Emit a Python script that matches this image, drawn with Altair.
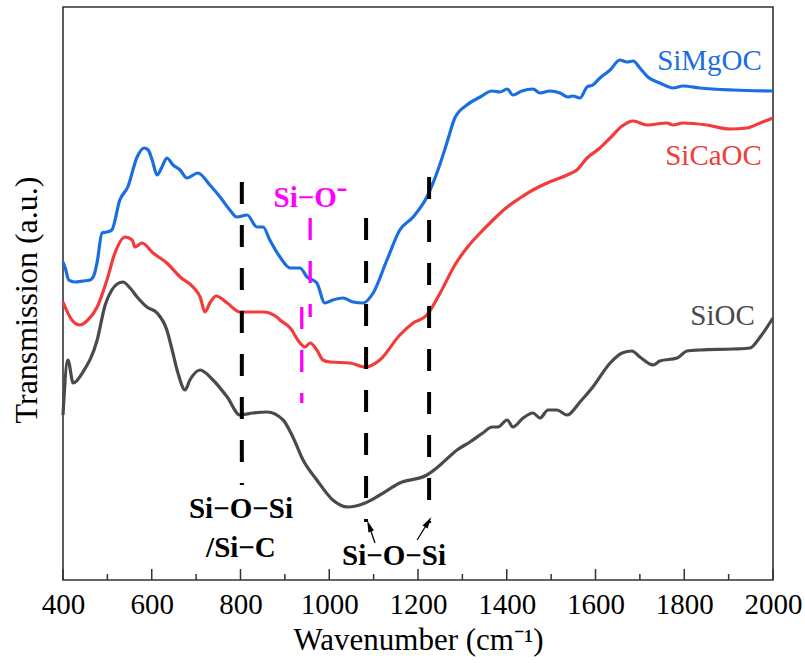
import altair as alt
import pandas as pd

# ---- data (wavenumber, transmission a.u.) ----
wn_mg = [400, 405, 413, 427, 445, 461, 470, 477, 488, 499, 510, 528, 546, 567, 583, 592, 601, 612, 623, 634,
         648, 664, 679, 704, 731, 754, 776, 792, 815, 837, 851, 866, 889, 912, 934, 950, 972, 990, 1008, 1031,
         1054, 1076, 1099, 1130, 1159, 1189, 1220, 1245, 1265, 1283, 1310, 1340, 1367, 1385, 1401, 1414, 1434,
         1459, 1475, 1497, 1520, 1538, 1549, 1565, 1581, 1594, 1610, 1633, 1655, 1671, 1685, 1700, 1718, 1745,
         1775, 1797, 1835, 1910, 2000]
t_mg = [318, 312, 300, 298, 299, 300, 305, 318, 347, 348, 350, 380, 393, 423, 432, 430, 420, 405, 413, 422,
        415, 410, 402, 407, 395, 383, 370, 363, 365, 353, 353, 340, 323, 312, 312, 303, 297, 277, 280, 282,
        278, 277, 287, 320, 350, 363, 383, 410, 437, 462, 475, 483, 489, 488, 491, 485, 489,
        491, 487, 489, 487, 483, 484, 482, 493, 495, 502, 510, 520, 518, 519, 512, 503, 497,
        492, 494, 492, 490, 489]

wn_ca = [400, 420, 438, 456, 477, 499, 517, 540, 556, 562, 578, 603, 634, 664, 693, 709, 720, 731, 745, 770,
         799, 851, 882, 889, 912, 934, 945, 957, 972, 986, 1002, 1047, 1081, 1114, 1159, 1189, 1220, 1250,
         1283, 1310, 1340, 1369, 1401, 1430, 1459, 1491, 1536, 1558, 1581, 1610, 1633, 1660, 1685, 1716,
         1761, 1775, 1797, 1851, 1903, 1941, 1971, 2000]
t_ca = [278, 260, 255, 260, 273, 300, 327, 343, 340, 333, 337, 327, 317, 303, 293, 283, 268, 277, 284, 277,
        268, 268, 263, 260, 252, 237, 233, 237, 230, 220, 218, 217, 213, 220, 245, 257, 265, 287,
        315, 332, 347, 360, 373, 382, 390, 397, 405, 410, 422, 432, 442, 454, 459, 455,
        457, 455, 457, 455, 451, 452, 457, 462]

wn_o = [400, 411, 423, 445, 477, 495, 510, 522, 535, 551, 567, 589, 612, 634, 646, 659, 675, 686, 709, 738,
        770, 799, 828, 860, 896, 918, 941, 972, 1008, 1042, 1081, 1114, 1159, 1220, 1250, 1288, 1317, 1346,
        1367, 1380, 1401, 1414, 1437, 1459, 1475, 1493, 1513, 1536, 1565, 1594, 1633, 1660, 1682, 1700,
        1730, 1745, 1784, 1806, 1835, 1910, 1948, 1971, 2000]
t_o = [165, 220, 197, 208, 240, 275, 290, 296, 298, 292, 283, 273, 267, 250, 230, 207, 190, 200, 210, 200,
       183, 165, 167, 168, 160, 143, 120, 100, 80, 73, 77, 85, 97, 105, 115, 130, 138, 147,
       153, 153, 160, 153, 162, 167, 162, 170, 170, 165, 178, 193, 217, 227, 229, 223,
       215, 219, 222, 229, 230, 231, 232, 243, 262]

series_names = ["SiOC", "SiCaOC", "SiMgOC"]
series_colors = ["#4a4a4a", "#f23b3b", "#1a6ee0"]

# dashed marker lines
black_x = [803, 1083, 1225]
black_top = [398, 362, 403]
black_bot = [95, 58, 57]
mag_x = [957, 938]
mag_top = [362, 273]
mag_bot = [263, 177]

# arrows (tail -> tip)
arr_x = [1103, 1198]
arr_y = [37, 40]
arr_x2 = [1090, 1223]
arr_y2 = [54, 58]
arr_angle = [340, 32]

# axis ticks
major_ticks = [400, 600, 800, 1000, 1200, 1400, 1600, 1800, 2000]
minor_ticks = [500, 700, 900, 1100, 1300, 1500, 1700, 1900]

FONT = "Liberation Serif"

rows = []
for name, ws, ts in [("SiOC", wn_o, t_o), ("SiCaOC", wn_ca, t_ca), ("SiMgOC", wn_mg, t_mg)]:
    for w, t in zip(ws, ts):
        rows.append({"series": name, "w": w, "t": t})
df = pd.DataFrame(rows)

X = alt.Scale(domain=[400, 2000], nice=False, zero=False)
Y = alt.Scale(domain=[0, 573], nice=False, zero=False)

base_x = alt.X("w:Q", scale=X,
               axis=alt.Axis(values=major_ticks, format="d", ticks=False, domain=False, grid=False,
                             labelFont=FONT, labelFontSize=29, labelColor="black",
                             labelPadding=10, labelOverlap=False, labelFlush=False,
                             title="Wavenumber (cm⁻¹)", titleFont=FONT,
                             titleFontSize=31, titleFontWeight="normal", titleColor="black",
                             titlePadding=6))

lines = alt.Chart(df).mark_line(strokeWidth=3.2, strokeJoin="round", interpolate="monotone").encode(
    x=base_x,
    y=alt.Y("t:Q", scale=Y, axis=None),
    color=alt.Color("series:N", scale=alt.Scale(domain=series_names, range=series_colors), legend=None),
    detail="series:N",
)

bdf = pd.DataFrame({"x": black_x, "top": black_top, "bot": black_bot})
black = alt.Chart(bdf).mark_rule(color="black", strokeWidth=4, strokeDash=[22, 21]).encode(
    x=alt.X("x:Q", scale=X), y=alt.Y("top:Q", scale=Y), y2="bot:Q")

mdf = pd.DataFrame({"x": mag_x, "top": mag_top, "bot": mag_bot})
mag = alt.Chart(mdf).mark_rule(color="#ff00ff", strokeWidth=3.3, strokeDash=[22, 21]).encode(
    x=alt.X("x:Q", scale=X), y=alt.Y("top:Q", scale=Y), y2="bot:Q")

adf = pd.DataFrame({"x": arr_x, "y": arr_y, "x2": arr_x2, "y2": arr_y2, "ang": arr_angle})
arr_lines = alt.Chart(adf).mark_rule(color="black", strokeWidth=1.3).encode(
    x=alt.X("x:Q", scale=X), y=alt.Y("y:Q", scale=Y), x2="x2:Q", y2="y2:Q")
arr_heads = alt.Chart(adf).mark_point(shape="M0,-1L0.5,1L-0.5,1Z", filled=True, color="black",
                                      size=140, opacity=1).encode(
    x=alt.X("x2:Q", scale=X), y=alt.Y("y2:Q", scale=Y), angle=alt.Angle("ang:Q", scale=None))

# text annotations
ann = pd.DataFrame({
    "x": [801, 801, 1146],
    "y": [62, 23, 15],
    "label": ["Si−O−Si", "/Si−C", "Si−O−Si"],
})
ann_text = alt.Chart(ann).mark_text(font=FONT, fontSize=29, fontWeight="bold",
                                    color="black", align="center", baseline="alphabetic").encode(
    x=alt.X("x:Q", scale=X), y=alt.Y("y:Q", scale=Y), text="label:N")

mag_text = alt.Chart(pd.DataFrame({"x": [957], "y": [373], "label": ["Si−O⁻"]})).mark_text(
    font=FONT, fontSize=29, fontWeight="bold", color="#ff00ff",
    align="center", baseline="alphabetic").encode(
    x=alt.X("x:Q", scale=X), y=alt.Y("y:Q", scale=Y), text="label:N")

lab = pd.DataFrame({"x": [1975, 1975, 1959], "y": [510, 415, 255],
                    "label": ["SiMgOC", "SiCaOC", "SiOC"], "series": ["SiMgOC", "SiCaOC", "SiOC"]})
lab_text = alt.Chart(lab).mark_text(font=FONT, fontSize=29, align="right",
                                    baseline="alphabetic").encode(
    x=alt.X("x:Q", scale=X), y=alt.Y("y:Q", scale=Y), text="label:N",
    color=alt.Color("series:N", scale=alt.Scale(domain=series_names, range=series_colors), legend=None))

tdf = pd.DataFrame({"w": major_ticks})
tmaj = alt.Chart(tdf).mark_rule(color="#333333", strokeWidth=1.5).encode(
    x=alt.X("w:Q", scale=X), y=alt.value(573), y2=alt.value(562))
mdf2 = pd.DataFrame({"w": minor_ticks})
tmin = alt.Chart(mdf2).mark_rule(color="#333333", strokeWidth=1.5).encode(
    x=alt.X("w:Q", scale=X), y=alt.value(573), y2=alt.value(567))

ytitle = alt.Chart(pd.DataFrame({"label": ["Transmission (a.u.)"]})).mark_text(
    font=FONT, fontSize=32, angle=270, align="center", baseline="alphabetic",
    color="black").encode(x=alt.value(-26), y=alt.value(293), text="label:N")

chart = alt.layer(lines, black, mag, arr_lines, arr_heads, ann_text, mag_text, lab_text,
                  tmaj, tmin, ytitle).properties(
    width=710, height=573,
    autosize=alt.AutoSizeParams(type="none"),
    padding={"left": 63, "top": 7, "right": 32, "bottom": 83},
).configure_view(stroke="#333333", strokeWidth=1.6)

chart.save("out.html", embed_options={"renderer": "svg", "actions": False})
